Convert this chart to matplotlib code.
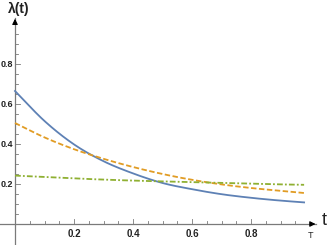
import numpy as np
import matplotlib

matplotlib.use("Agg")
import matplotlib.pyplot as plt

# values
t = [0.0, 0.1, 0.2, 0.3, 0.4, 0.5, 0.6, 0.7, 0.8, 0.9, 0.98]
lam_solid = [0.665, 0.515, 0.398, 0.314, 0.253, 0.205, 0.174, 0.149, 0.131, 0.117, 0.108]
lam_dashed = [0.505, 0.433, 0.374, 0.326, 0.285, 0.250, 0.221, 0.198, 0.180, 0.166, 0.155]
lam_dashdot = [0.242, 0.235, 0.228, 0.222, 0.217, 0.213, 0.209, 0.205, 0.201, 0.198, 0.196]

x_ticks = [0.2, 0.4, 0.6, 0.8]
y_ticks = [0.2, 0.4, 0.6, 0.8]

blue, orange, green = "#5E81B5", "#E19C24", "#8FB032"
plt.rcParams["font.family"] = ["Liberation Sans", "DejaVu Sans"]


def smooth(x, y, n=200):
    # piecewise cubic Hermite through the read points
    x = np.asarray(x)
    y = np.asarray(y)
    d = np.gradient(y, x)
    xs = np.linspace(x[0], x[-1], n)
    k = np.clip(np.searchsorted(x, xs, side="right") - 1, 0, len(x) - 2)
    h = x[k + 1] - x[k]
    s = (xs - x[k]) / h
    h00 = 2 * s**3 - 3 * s**2 + 1
    h10 = s**3 - 2 * s**2 + s
    h01 = -2 * s**3 + 3 * s**2
    h11 = s**3 - s**2
    return xs, h00 * y[k] + h10 * h * d[k] + h01 * y[k + 1] + h11 * h * d[k + 1]


fig = plt.figure(figsize=(3.27, 2.45), dpi=100)
ax = fig.add_axes([0, 0, 1, 1])
ax.set_xlim(-15 / 295, 312 / 295)
ax.set_ylim(-21 / 200, 224 / 200)
ax.axis("off")

axis_col = "#7a7a7a"
ax.plot([-15 / 295, 1.02], [0, 0], color=axis_col, lw=0.9, zorder=1)
ax.plot([0, 0], [-21 / 200, 1.03], color=axis_col, lw=0.9, zorder=1)
ax.annotate("", xy=(1.028, 0), xytext=(1.0, 0),
            arrowprops=dict(arrowstyle="-|>", color="black", lw=0.8, mutation_scale=8))
ax.annotate("", xy=(0, 1.04), xytext=(0, 0.99),
            arrowprops=dict(arrowstyle="-|>", color="black", lw=0.8, mutation_scale=8))

# ticks drawn by hand so they sit on the axis lines
for xv in np.arange(0.05, 1.0, 0.05):
    major = abs(xv / 0.2 - round(xv / 0.2)) < 1e-6
    ax.plot([xv, xv], [0, (5 if major else 3) / 200], color=axis_col, lw=0.6)
for yv in np.arange(0.05, 1.0, 0.05):
    major = abs(yv / 0.2 - round(yv / 0.2)) < 1e-6
    ax.plot([0, (5 if major else 3) / 295], [yv, yv], color=axis_col, lw=0.6)

for xv in x_ticks:
    ax.text(xv, -10 / 200, f"{xv:.1f}", ha="center", va="center", fontsize=7,
            fontweight="bold", color="#222222")
for yv in y_ticks:
    ax.text(-2 / 295, yv, f"{yv:.1f}", ha="right", va="center", fontsize=6.5,
            fontweight="bold", color="#222222")

ax.text(1.0, -11 / 200, "T", ha="center", va="center", fontsize=6.5, color="#222222")
ax.text(1.047, 0.02, "t", ha="center", va="center", fontsize=13, color="#222222")
ax.text(4 / 295, 1.075, "λ(t)", ha="center", va="center", fontsize=10,
        fontweight="bold", color="#222222")

xs, ys = smooth(t, lam_solid)
ax.plot(xs, ys, color=blue, lw=1.3, zorder=3)
xs, ys = smooth(t, lam_dashed)
ax.plot(xs, ys, color=orange, lw=1.3, ls=(0, (3, 1.4)), zorder=3)
xs, ys = smooth(t, lam_dashdot)
ax.plot(xs, ys, color=green, lw=1.3, ls=(0, (3.2, 1.2, 1, 1.2)), zorder=3)

fig.savefig("out.png", dpi=100)
